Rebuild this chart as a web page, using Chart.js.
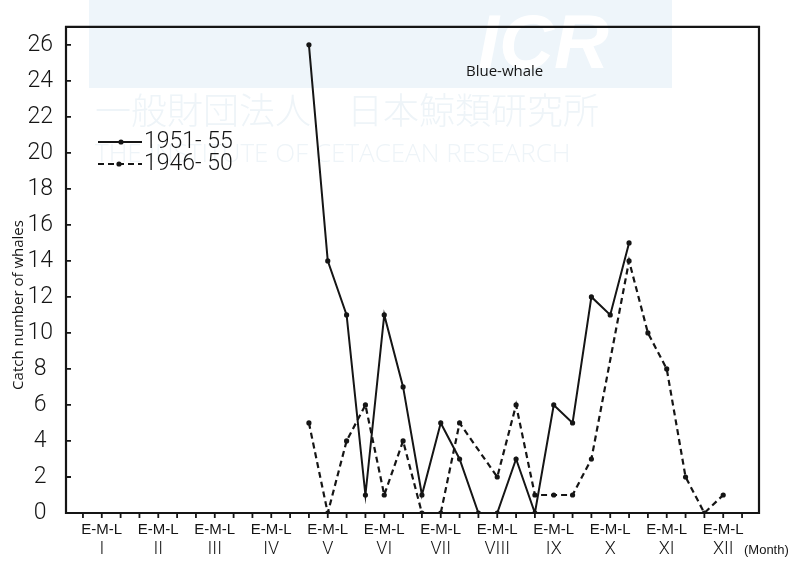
<!DOCTYPE html>
<html>
<head>
<meta charset="utf-8">
<script src="https://cdn.jsdelivr.net/npm/chart.js@4.4.1/dist/chart.umd.min.js"></script>
<style>
  html, body { margin: 0; padding: 0; background: #ffffff; }
  #wrap { width: 793px; height: 564px; position: relative; }
</style>
</head>
<body>
<div id="wrap"><canvas id="c" width="793" height="564"></canvas></div>
<script>
// Ten-day periods (Early / Middle / Late) of each month
const months = ['I', 'II', 'III', 'IV', 'V', 'VI', 'VII', 'VIII', 'IX', 'X', 'XI', 'XII'];
const thirds = ['E', 'M', 'L'];
const categories = months.flatMap(m => thirds.map(t => m + '-' + t));

// Catch number of blue whales per ten-day period
const catch1951_55 = [
  null, null, null,  null, null, null,  null, null, null,  null, null, null,
  26, 14, 11,        1, 11, 7,          1, 5, 3,           0, 0, 3,
  0, 6, 5,           12, 11, 15,        null, null, null,  null, null, null
];
const catch1946_50 = [
  null, null, null,  null, null, null,  null, null, null,  null, null, null,
  5, 0, 4,           6, 1, 4,           0, 0, 5,           null, 2, 6,
  1, 1, 1,           3, null, 14,       10, 8, 2,          0, 1, null
];
const yTicks = [0, 2, 4, 6, 8, 10, 12, 14, 16, 18, 20, 22, 24, 26];
const seriesNames = ['1951- 55', '1946- 50'];

const INK = '#151515';
const THIN = 'Roboto, "Open Sans", "Liberation Sans", sans-serif';
const SANS = '"Open Sans", "Liberation Sans", sans-serif';
const PLAIN = '"Liberation Sans", "DejaVu Sans", sans-serif';

const toPoints = arr => arr.map((v, i) => ({ x: i, y: v }));

// Faint institute watermark behind the plot
const watermark = {
  id: 'watermark',
  beforeDatasetsDraw(chart) {
    const ctx = chart.ctx;
    ctx.save();
    ctx.fillStyle = '#eef5fa';
    ctx.fillRect(89, 0, 583, 88);
    ctx.fillStyle = '#ffffff';
    ctx.font = 'italic bold 76px ' + PLAIN;
    ctx.textBaseline = 'alphabetic';
    ctx.fillText('ICR', 478, 68);
    ctx.fillStyle = '#eef4f8';
    ctx.font = '300 36px "Noto Sans CJK JP", sans-serif';
    ctx.textBaseline = 'middle';
    ctx.fillText('一般財団法人\u3000日本鯨類研究所', 95, 110);
    ctx.font = '300 26px ' + SANS;
    ctx.fillText('THE INSTITUTE OF CETACEAN RESEARCH', 95, 155);
    ctx.restore();
  }
};

// Frame, inward tick marks, titles and legend
const decorations = {
  id: 'decorations',
  afterDatasetsDraw(chart) {
    const ctx = chart.ctx;
    const { left, right, top, bottom } = chart.chartArea;
    const xs = chart.scales.x, ys = chart.scales.y;
    ctx.save();
    ctx.strokeStyle = INK;
    ctx.lineWidth = 2.2;
    ctx.beginPath();
    ctx.moveTo(left, top); ctx.lineTo(right, top);
    ctx.lineTo(right, bottom); ctx.lineTo(left, bottom);
    ctx.closePath();
    ctx.stroke();

    ctx.lineWidth = 1.8;
    ctx.beginPath();
    yTicks.forEach(v => {
      const y = ys.getPixelForValue(v);
      ctx.moveTo(left, y); ctx.lineTo(left + 5, y);
    });
    categories.forEach((c, i) => {
      const x = xs.getPixelForValue(i);
      ctx.moveTo(x, bottom); ctx.lineTo(x, bottom + 5);
    });
    ctx.stroke();

    ctx.fillStyle = INK;
    // y-axis title
    ctx.save();
    ctx.translate(19, 305);
    ctx.rotate(-Math.PI / 2);
    ctx.font = '15px ' + SANS;
    ctx.textAlign = 'center';
    ctx.textBaseline = 'middle';
    ctx.fillText('Catch number of whales', 0, 0);
    ctx.restore();

    ctx.font = '13px ' + PLAIN;
    ctx.textAlign = 'left';
    ctx.textBaseline = 'middle';
    ctx.fillText('(Month)', 744, 550);

    ctx.font = '15px ' + SANS;
    ctx.fillText('Blue-whale', 466, 72);

    // legend
    const rows = [142, 164];
    chart.data.datasets.forEach((ds, k) => {
      const y = rows[k];
      ctx.strokeStyle = ds.borderColor;
      ctx.lineWidth = ds.borderWidth;
      ctx.setLineDash(ds.borderDash || []);
      ctx.beginPath();
      ctx.moveTo(98, y); ctx.lineTo(142, y);
      ctx.stroke();
      ctx.setLineDash([]);
      ctx.beginPath();
      ctx.arc(k === 0 ? 121 : 119, y, ds.pointRadius, 0, Math.PI * 2);
      ctx.fill();
      ctx.font = '300 23px ' + THIN;
      ctx.fillText(ds.label, 144, y);
    });
    ctx.restore();
  }
};

new Chart(document.getElementById('c'), {
  type: 'line',
  data: {
    datasets: [
      {
        label: seriesNames[0],
        data: toPoints(catch1951_55),
        borderColor: INK, backgroundColor: INK,
        borderWidth: 2, pointRadius: 2.6, pointBackgroundColor: INK,
        pointBorderWidth: 0, tension: 0, spanGaps: true
      },
      {
        label: seriesNames[1],
        data: toPoints(catch1946_50),
        borderColor: INK, backgroundColor: INK,
        borderWidth: 2.2, borderDash: [6, 4], pointRadius: 2.6, pointBackgroundColor: INK,
        pointBorderWidth: 0, tension: 0, spanGaps: true
      }
    ]
  },
  options: {
    responsive: false,
    animation: false,
    devicePixelRatio: 1,
    layout: { padding: { left: 0, top: 6, right: 34, bottom: 0 } },
    plugins: { legend: { display: false }, tooltip: { enabled: false } },
    scales: {
      x: {
        type: 'linear', position: 'bottom', min: -0.9, max: 35.9,
        afterBuildTicks: s => { s.ticks = categories.map((c, i) => ({ value: i })); },
        afterFit: s => { s.height = 22; },
        grid: { display: false, drawTicks: false },
        border: { display: false },
        ticks: {
          autoSkip: false, maxRotation: 0, padding: 8, color: INK,
          font: { family: PLAIN, size: 15 },
          callback: (v, i) => (i % 3 === 1 ? 'E-M-L' : '')
        }
      },
      x2: {
        type: 'linear', position: 'bottom', min: -0.9, max: 35.9, display: true,
        afterBuildTicks: s => { s.ticks = categories.map((c, i) => ({ value: i })); },
        afterFit: s => { s.height = 29; },
        grid: { display: false, drawTicks: false },
        border: { display: false },
        ticks: {
          autoSkip: false, maxRotation: 0, padding: 4, color: INK,
          font: { family: THIN, size: 18, weight: '300' },
          callback: (v, i) => (i % 3 === 1 ? months[(i - 1) / 3] : '')
        }
      },
      y: {
        type: 'linear', min: 0, max: 27,
        afterBuildTicks: s => { s.ticks = yTicks.map(v => ({ value: v })); },
        afterFit: s => { s.width = 66; },
        grid: { display: false, drawTicks: false },
        border: { display: false },
        ticks: {
          padding: 13, crossAlign: 'center', color: INK,
          font: { family: THIN, size: 23, weight: '300' }
        }
      }
    }
  },
  plugins: [watermark, decorations]
});
</script>
</body>
</html>
